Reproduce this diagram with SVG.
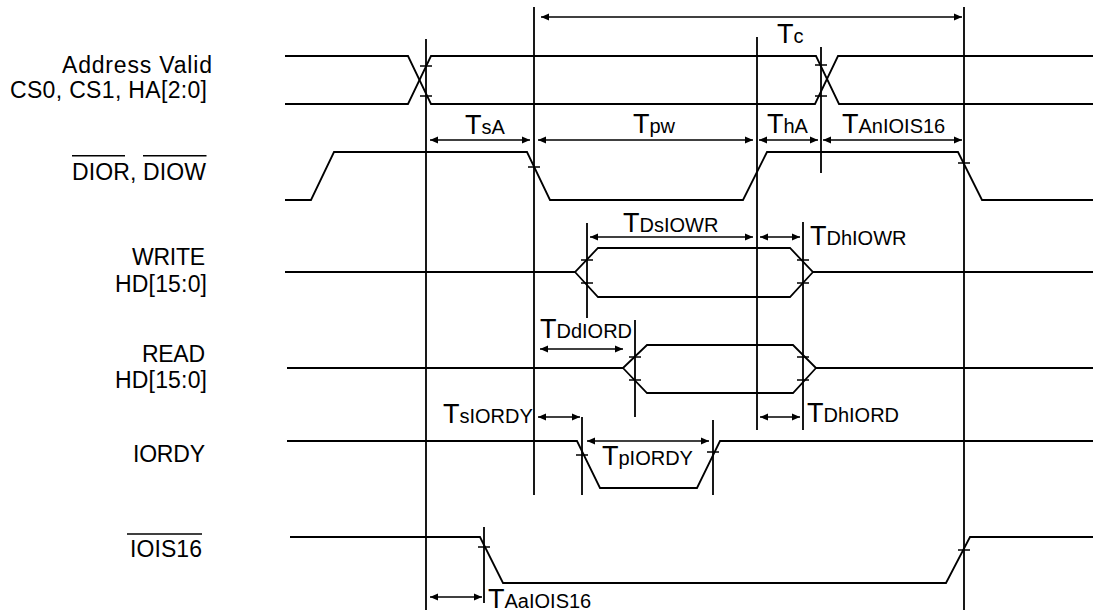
<svg xmlns="http://www.w3.org/2000/svg" width="1093" height="614" viewBox="0 0 1093 614">
<style>
.w{fill:none;stroke:#000;stroke-width:1.8;stroke-linejoin:miter}
.v{stroke:#000;stroke-width:1.8}
.t{stroke:#000;stroke-width:1.6}
.a{stroke:#000;stroke-width:1.6;marker-start:url(#ah);marker-end:url(#ah)}
.lb{font-family:"Liberation Sans",Arial,sans-serif;font-size:23px;fill:#000}
.tm{font-family:"Liberation Sans",Arial,sans-serif;font-size:20px;fill:#000}
.T{font-size:27px}
</style>
<defs>
<marker id="ah" viewBox="0 0 8 8" refX="8" refY="4" markerWidth="8" markerHeight="8" orient="auto-start-reverse" markerUnits="userSpaceOnUse"><path d="M0,0.5 L8,4 L0,7.5 Z" fill="#000"/></marker>
</defs>
<rect width="1093" height="614" fill="#fff"/>

<g id="sig-address">
<text class="lb" x="62" y="73" textLength="150" lengthAdjust="spacing">Address Valid</text>
<text class="lb" x="10" y="98" textLength="197" lengthAdjust="spacing">CS0, CS1, HA[2:0]</text>
<polyline class="w" points="285,56 408,56 431,104 815,104 838,56 1093,56"/>
<polyline class="w" points="285,104 408,104 431,56 816,56 839,104 1093,104"/>
<path class="t" d="M420,66H432M420,96H432M815,65H827M815,96H827"/>
</g>

<g id="sig-dior">
<text class="lb" x="72" y="179.5" textLength="134" lengthAdjust="spacing">DIOR, DIOW</text>
<path class="t" d="M72,155.7H125M143,155.7H206.5"/>
<polyline class="w" points="285,200 311,200 334,152 527,152 550,200 743,200 767,152 958,152 982,200 1093,200"/>
<path class="t" d="M528,167H540M958,163H970"/>
</g>

<g id="sig-write">
<text class="lb" x="132" y="265" textLength="73" lengthAdjust="spacing">WRITE</text>
<text class="lb" x="115" y="292" textLength="92" lengthAdjust="spacing">HD[15:0]</text>
<path class="w" d="M285,272H575L598,248H790L813,272H1093M575,272L598,297H790L813,272"/>
<path class="t" d="M581,260H593M581,283H593M797,260H809M797,283H809"/>
</g>

<g id="sig-read">
<text class="lb" x="142" y="362" textLength="63" lengthAdjust="spacing">READ</text>
<text class="lb" x="115" y="388" textLength="92" lengthAdjust="spacing">HD[15:0]</text>
<path class="w" d="M287,368H623L647,345H793L816,368H1093M623,368L647,393H793L816,368"/>
<path class="t" d="M629,357H641M629,380H641M797,357H809M797,380H809"/>
</g>

<g id="sig-iordy">
<text class="lb" x="133" y="462" textLength="72" lengthAdjust="spacing">IORDY</text>
<polyline class="w" points="287,441 577,441 600,488 697,488 720,441 1093,441"/>
<path class="t" d="M576,455H588M707,452H719"/>
</g>

<g id="sig-iois16">
<text class="lb" x="130" y="557" textLength="72" lengthAdjust="spacing">IOIS16</text>
<path class="t" d="M127,534H202"/>
<polyline class="w" points="290,537 480,537 503,583 946,583 970,537 1093,537"/>
<path class="t" d="M478,547H490M958,550H970"/>
</g>

<g id="connectors">
<path class="v" d="M426,39V610M534,7V495M757,37V430M821,47V173M964,7V610M587,223V318M803,222V430M635,320V417M582,417V495M713,420V495M484,527V603"/>
<line class="a" x1="541" y1="17" x2="962" y2="17"/>
<line class="a" x1="430" y1="140" x2="530" y2="140"/>
<line class="a" x1="538" y1="140" x2="753" y2="140"/>
<line class="a" x1="759" y1="140" x2="818" y2="140"/>
<line class="a" x1="823" y1="140" x2="962" y2="140"/>
<line class="a" x1="590" y1="237" x2="753" y2="237"/>
<line class="a" x1="760" y1="237" x2="800" y2="237"/>
<line class="a" x1="540" y1="349" x2="623" y2="349"/>
<line class="a" x1="760" y1="417" x2="800" y2="417"/>
<line class="a" x1="538" y1="417" x2="580" y2="417"/>
<line class="a" x1="587" y1="441" x2="709" y2="441"/>
<line class="a" x1="430" y1="597" x2="482" y2="597"/>
</g>

<g id="timing-labels">
<text class="tm" x="777" y="43"><tspan class="T">T</tspan>c</text>
<text class="tm" x="465" y="134"><tspan class="T">T</tspan>sA</text>
<text class="tm" x="633" y="133"><tspan class="T">T</tspan>pw</text>
<text class="tm" x="767" y="133"><tspan class="T">T</tspan>hA</text>
<text class="tm" x="842" y="133"><tspan class="T">T</tspan>AnIOIS16</text>
<text class="tm" x="623" y="232"><tspan class="T">T</tspan>DsIOWR</text>
<text class="tm" x="810" y="245"><tspan class="T">T</tspan>DhIOWR</text>
<text class="tm" x="540" y="338"><tspan class="T">T</tspan>DdIORD</text>
<text class="tm" x="443" y="423"><tspan class="T">T</tspan>sIORDY</text>
<text class="tm" x="807" y="422"><tspan class="T">T</tspan>DhIORD</text>
<text class="tm" x="602" y="465"><tspan class="T">T</tspan>pIORDY</text>
<text class="tm" x="488" y="608"><tspan class="T">T</tspan>AaIOIS16</text>
</g>
</svg>
